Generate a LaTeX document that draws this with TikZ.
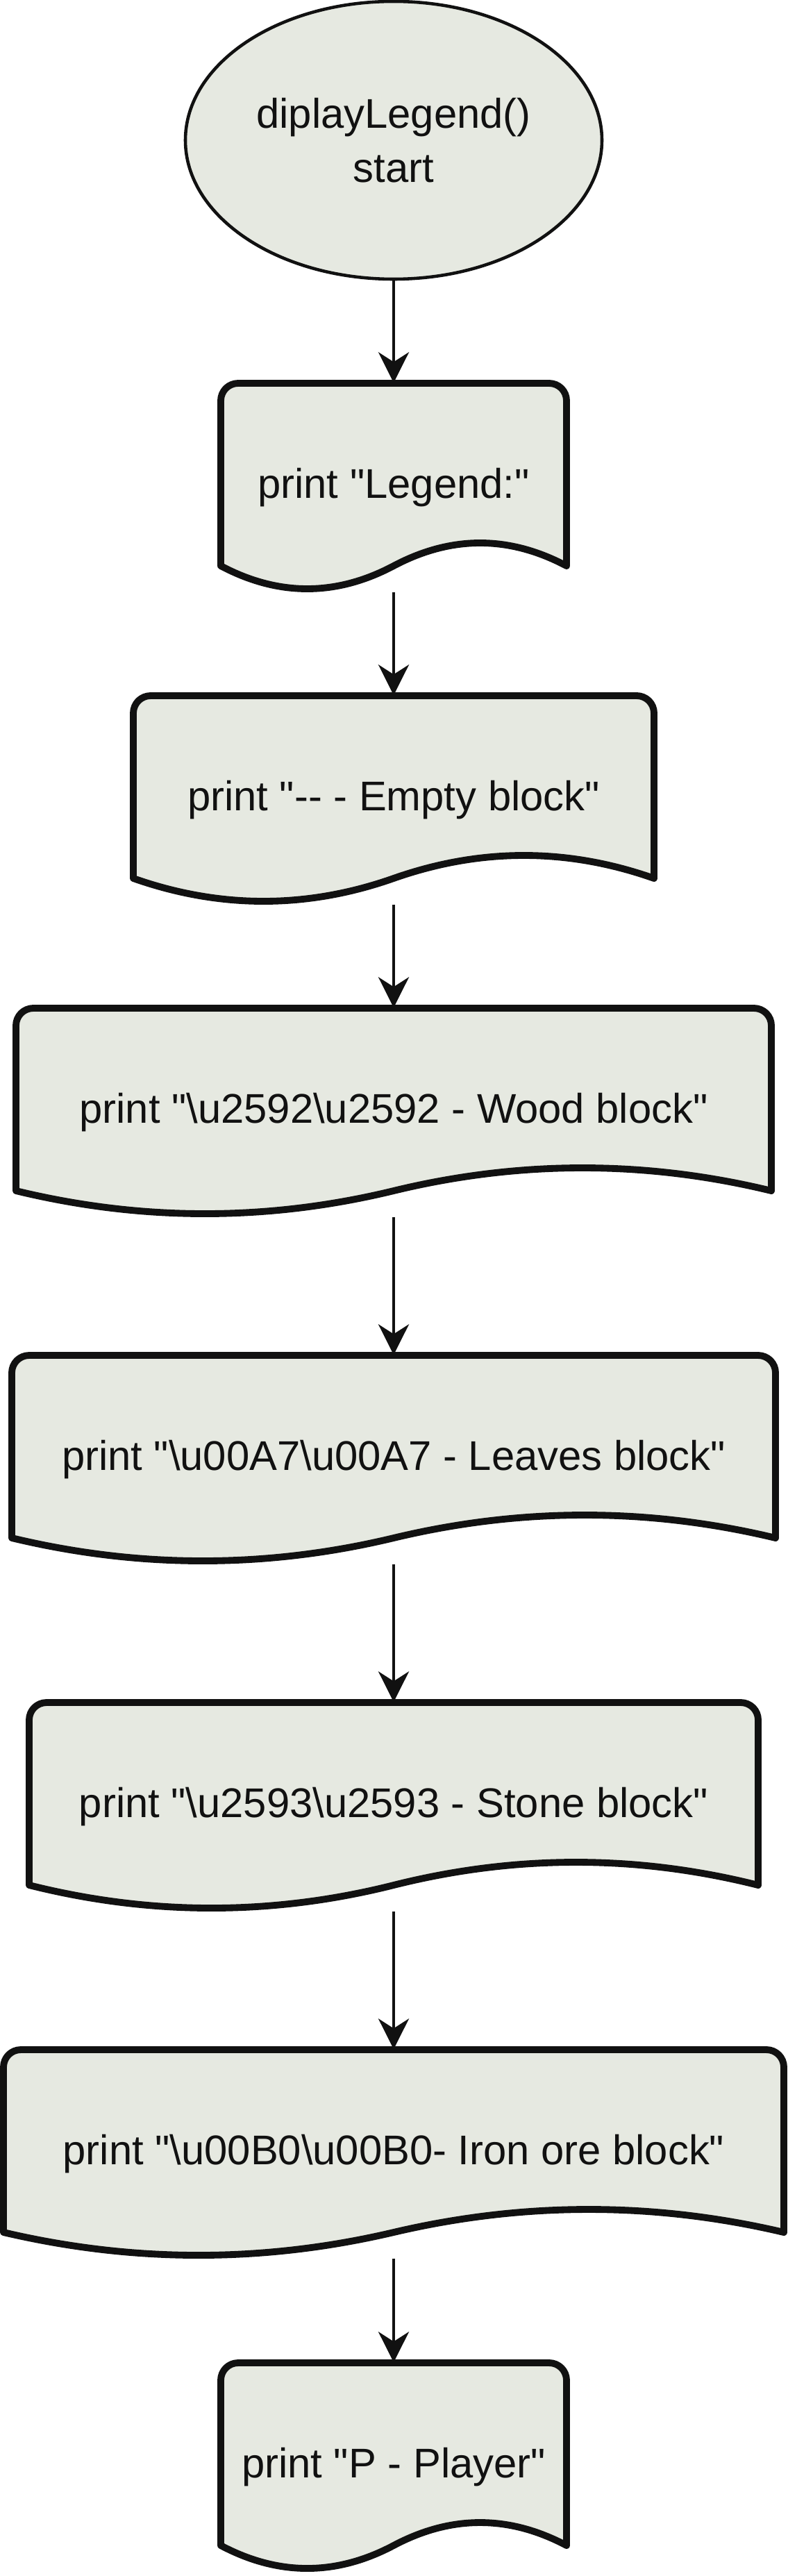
\documentclass[tikz,border=0pt]{standalone}
\usepackage{fontspec}
\newfontfamily\flowfont{Liberation Sans}
\usetikzlibrary{arrows.meta, shapes.geometric, backgrounds}
\definecolor{myFill}{RGB}{230,233,225}
\definecolor{myLine}{RGB}{17,17,17}

\begin{document}
\begin{tikzpicture}[
  term/.style={ellipse, draw=myLine, fill=myFill, line width=1.3pt,
    minimum width=6cm, minimum height=4cm, inner sep=0pt, align=center,
    text=myLine, font=\flowfont\fontsize{17}{22}\selectfont},
  doc/.style={minimum height=3cm, inner sep=0pt, text=myLine,
    font=\flowfont\fontsize{17}{22}\selectfont},
  docline/.style={draw=myLine, fill=myFill, line width=2.8pt, line join=round},
  flow/.style={draw=myLine, line width=1.3pt,
    -{Stealth[length=4.4mm, width=4.4mm, inset=1.4mm]}},
]
  \useasboundingbox (0,0) rectangle (11.35,-37.10);

  \node[term] (start) at (5.67,-2.02) {diplayLegend()\\start};
  \node[doc, minimum width=4.98cm] (legend) at (5.67,-7.02)
    {print "Legend:"};
  \node[doc, minimum width=7.50cm] (empty) at (5.67,-11.52)
    {print "-- - Empty block"};
  \node[doc, minimum width=10.88cm] (wood) at (5.67,-16.02)
    {print "\textbackslash u2592\textbackslash u2592 - Wood block"};
  \node[doc, minimum width=11.00cm] (leaves) at (5.67,-21.02)
    {print "\textbackslash u00A7\textbackslash u00A7 - Leaves block"};
  \node[doc, minimum width=10.50cm] (stone) at (5.67,-26.02)
    {print "\textbackslash u2593\textbackslash u2593 - Stone block"};
  \node[doc, minimum width=11.24cm] (iron) at (5.67,-31.02)
    {print "\textbackslash u00B0\textbackslash u00B0- Iron ore block"};
  \node[doc, minimum width=4.98cm] (player) at (5.67,-35.53)
    {print "P - Player"};

  % document outlines, drawn behind the labels
  \begin{scope}[on background layer]
    \foreach \n/\w in {legend/4.98, empty/7.50, wood/10.88, leaves/11.00,
                       stone/10.50, iron/11.24, player/4.98}
      \path[docline] ([shift={(-\w/2,-1.13)}]\n.center)
        -- ([shift={(-\w/2,1.25)}]\n.center)
        arc[start angle=180, end angle=90, radius=0.25]
        -- ([shift={(\w/2-0.25,1.5)}]\n.center)
        arc[start angle=90, end angle=0, radius=0.25]
        -- ([shift={(\w/2,-1.13)}]\n.center)
        .. controls ([shift={(\w/3,-0.69)}]\n.center)
           and ([shift={(\w/6,-0.69)}]\n.center) .. ([shift={(0,-1.13)}]\n.center)
        .. controls ([shift={(-\w/6,-1.57)}]\n.center)
           and ([shift={(-\w/3,-1.57)}]\n.center) .. cycle;
  \end{scope}

  \draw[flow] (start.south) -- (legend.north);
  \draw[flow] (legend.south) -- (empty.north);
  \draw[flow] (empty.south) -- (wood.north);
  \draw[flow] (wood.south) -- (leaves.north);
  \draw[flow] (leaves.south) -- (stone.north);
  \draw[flow] (stone.south) -- (iron.north);
  \draw[flow] (iron.south) -- (player.north);
\end{tikzpicture}
\end{document}
